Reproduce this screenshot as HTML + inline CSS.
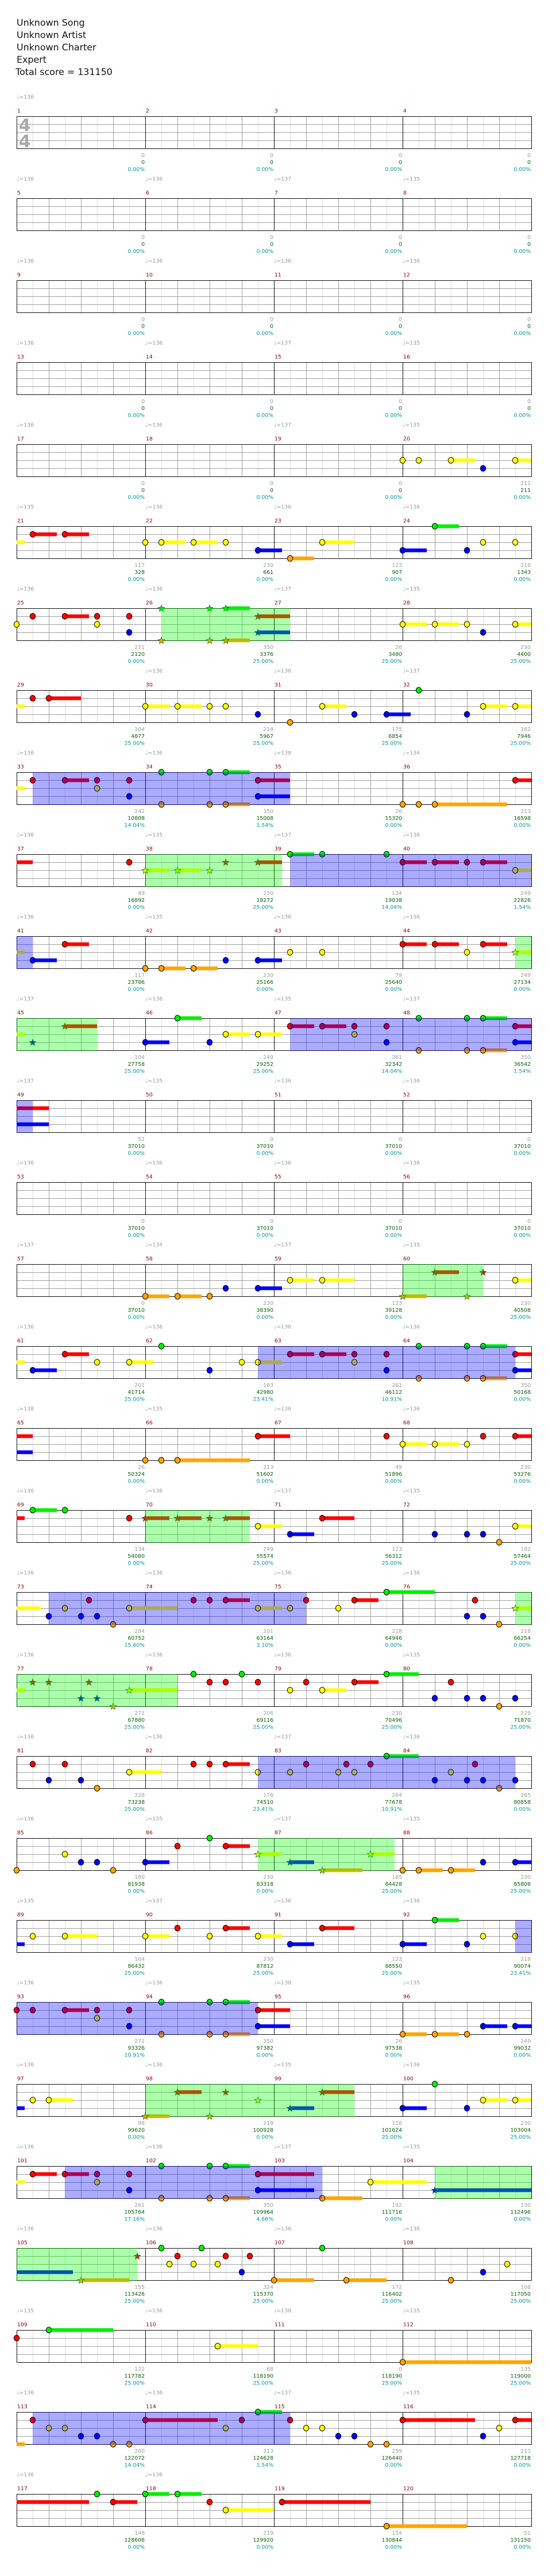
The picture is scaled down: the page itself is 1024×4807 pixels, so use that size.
<!DOCTYPE html>
<html><head><meta charset="utf-8">
<style>
html,body{margin:0;padding:0;background:#fff;}
svg{display:block;}
</style></head>
<body>
<svg id="s" xmlns="http://www.w3.org/2000/svg" width="1024" height="4807" viewBox="0 0 1024 4807" font-family="DejaVu Sans, Liberation Sans, sans-serif">
<rect width="1024" height="4807" fill="#fff"/>
<g font-size="17" fill="#111">
<text x="31" y="48">Unknown Song</text>
<text x="31" y="71">Unknown Artist</text>
<text x="31" y="94">Unknown Charter</text>
<text x="31" y="117">Expert</text>
<text x="29" y="140">Total score = 131150</text>
</g>
<g id="c"></g>
</svg>
<script>
var Z4="0/0/0.00% 0/0/0.00% 0/0/0.00% 0/0/0.00%";
var Q4="0/37010/0.00% 0/37010/0.00% 0/37010/0.00% 0/37010/0.00%";
var rows=[
{t:"136",l:Z4,n:""},
{t:"136 136 137 135",l:Z4,n:""},
{t:"136 136 136 136",l:Z4,n:""},
{t:"136 136 137 135",l:Z4,n:""},
{t:"136 136 137 135",l:"0/0/0.00% 0/0/0.00% 0/0/0.00% 211/211/0.00%",n:"y24 y25 y27+1.5 b29 y31+1"},
{t:"135 136 136 136",l:"117/328/0.00% 230/661/0.00% 123/907/0.00% 218/1343/0.00%",n:"y0+.5! r1+1.5 r3+1.5 y8 y9+1.5 y11+1.5 y13 b15+1.5 o17+1.5 y19+2 b24+1.5 g26+1.5 b28 y29 y31"},
{t:"136 136 137 135",z:"G9-17",l:"271/2120/0.00% 350/3376/25.00% 26/3480/25.00% 230/4400/25.00%",n:"y0 r1 r3+1.5 r5 y5 r7 b7 g9 g12 g13+1.5 o9 o12 o13+1.5 r15+2 b15+2 y24+1.5 y26+1.5 y28 b29 y31+1"},
{t:"_ 136 136 137",l:"104/4877/25.00% 218/5967/25.00% 175/6854/25.00% 182/7946/25.00%",n:"y0+.5! r1 r2+2 y8+1.5 y10+1.5 y12 y13 b15 o17 y19+1.5 b21 b23+1.5 g25 b28 y29+1.5 y31+1"},
{t:"136 136 138 134",z:"B1-17",l:"242/10808/14.04% 350/15008/1.54% 26/15320/0.00% 213/16598/0.00%",n:"y0+.5! r1 r3+1.5 r5 y5 r7 b7 g9 g12 g13+1.5 o9 o12 o13+1.5 r15+2 b15+2 o24 o25 o26+4.5 r31+1"},
{t:"136 135 137 136",z:"G8-16.5 B17-32",l:"49/16892/0.00% 230/18272/25.00% 134/19838/14.04% 249/22826/1.54%",n:"r0+1! r7 y8+1.5 y10+1.5 y12 r13 r15+1.5 g17+1.5 g19 g23 r24+1.5 r26+1.5 r28 r29+1.5 y31+1"},
{t:"136 135 136 136",z:"B0-1 G31-32",l:"117/23786/0.00% 230/25166/0.00% 79/25640/0.00% 249/27134/0.00%",n:"y0+.5! b1+1.5 r3+1.5 o8 o9+1.5 o11+1.5 b13 b15+1.5 y17 y19 r24+1.5 r26+1.5 y28 r29+1.5 y31+1"},
{t:"137 136 135 137",z:"G0-5 B17-32",l:"104/27758/25.00% 249/29252/25.00% 261/32342/14.04% 350/36542/1.54%",n:"y0+.5! b1 r3+2 b8+1.5 g10+1.5 b12 y13+1.5 y15+1.5 r17+1.5 r19+1.5 r21 y21 r23 b23 g25 o25 g28 g29+1.5 o28 o29+1.5 r31+1 b31+1"},
{t:"137 135 136 136",z:"B0-1",l:"52/37010/0.00% 0/37010/0.00% 0/37010/0.00% 0/37010/0.00%",n:"r0+2! b0+2!"},
{t:"136 136 136 136",l:Q4,n:""},
{t:"137 134 137 135",z:"G24-29",l:"0/37010/0.00% 230/38390/0.00% 123/39128/0.00% 230/40508/25.00%",n:"o8+1.5 o10+1.5 o12 b13 b15+1.5 y17+1.5 y19+2 o24+1.5 r26+1.5 o28 r29 y31+1"},
{t:"136 136 136 136",z:"B15-31",l:"201/41714/25.00% 163/42980/23.41% 261/46112/10.91% 350/50168/0.00%",n:"y0+.5! b1+1.5 r3+1.5 y5 y7+1.5 g9 b12 y14 y15+1.5 r17+1.5 r19+1.5 r21 y21 r23 b23 g25 o25 g28 g29+1.5 o28 o29+1.5 r31+1 b31+1"},
{t:"138 135 136 136",l:"26/50324/0.00% 213/51602/0.00% 49/51896/0.00% 230/53276/0.00%",n:"r0+1! b0+1! o8 o9 o10+4.5 r15+2 r23 y24+1.5 y26+1.5 y28 r29 r31+1"},
{t:"136 136 137 135",z:"G8-14.5",l:"134/54080/0.00% 249/55574/25.00% 123/56312/25.00% 192/57464/25.00%",n:"r0+.5! g1+1.5 g3 r7 r8+1.5 r10+1.5 r12 r13+1.5 y15+1.5 b17+1.5 r19+2 b26 b28 b29 o30 y31+1"},
{t:"136 136 136 136",z:"B2-18 G31-32",l:"284/60752/15.60% 201/63164/3.10% 218/64946/0.00% 218/66254/0.00%",n:"y0+1.5! b2 y3 r4.5 b4 b5 o6 y7+3 r11 r12 r13+1.5 y15+1.5 y17 r18 y20 r21+1.5 g23+3 r28.5 b28 b29 o30 y31+1"},
{t:"136 136 136 135",z:"G0-10",l:"271/67880/25.00% 206/69116/25.00% 230/70496/25.00% 229/71870/25.00%",n:"y0+.5! r1 r2 r4.5 b4 b5 o6 y7+3 g11 r12 r13 g14 r15 y17 r18 y19+1.5 r21+1.5 g23+2 r27 b26 b28 b29 o30 b31"},
{t:"136 136 137 136",z:"B15-31",l:"228/73238/25.00% 176/74510/23.41% 264/77678/10.91% 265/80858/0.00%",n:"r1 r3 b2 b4 o5 y7+2 r11 r12 r13+1.5 y15 y17 r18 y20 y21 r20.5 r22 g23+2 y27 r28.5 b26 b28 b29 b31 o30"},
{t:"136 135 137 135",z:"G15-23.5",l:"180/81938/0.00% 230/83318/0.00% 185/84428/25.00% 230/85808/25.00%",n:"o0 y3 b4 b5 o6 b8+1.5 r10 g12 r13+1.5 y15+1.5 b17+1.5 o19+2.5 y22+1.5 o24 o25+1.5 o27+1.5 b29 b31+1"},
{t:"135 137 136 136",z:"B31-32",l:"104/86432/25.00% 230/87812/25.00% 123/88550/25.00% 218/90074/23.41%",n:"b0+.5! y1 y3+2 y8+1.5 r10 y12 r13+1.5 y15+1.5 b17+1.5 r19+2 b24+1.5 g26+1.5 b28 y29 y31"},
{t:"136 136 138 135",z:"B0-15",l:"271/93326/10.91% 350/97382/0.00% 26/97538/0.00% 249/99032/0.00%",n:"r0 r1 r3+1.5 r5 y5 r7 b7 g9 g12 g13+1.5 o9 o12 o13+1.5 r15+2 b15+2 o24+1.5 o26+1.5 o28 b29+1.5 b31+1"},
{t:"136 136 135 136",z:"G8-21",l:"98/99620/0.00% 218/100928/0.00% 116/101624/25.00% 230/103004/25.00%",n:"b0+.5! y1 y2+1.5 o8+1.5 r10+1.5 o12 r13 y15 b17+1.5 r19+2 g26 b24+1.5 b28 y29+1.5 y31+1"},
{t:"136 136 137 135",z:"B3-19 G26-32",l:"261/105764/17.16% 350/109964/4.66% 192/111716/0.00% 130/112496/0.00%",n:"y0+.5! r1+1.5 r3+1.5 r5 y5 r7 b7 g9 g12 g13+1.5 o9 o12 o13+1.5 r15+3.5 b15+3.5 o19+2.5 y22+3.5 b26+6"},
{t:"136 136 136 136",z:"G0-7.5",l:"155/113426/25.00% 324/115370/25.00% 172/116402/25.00% 108/117050/25.00%",n:"b0+3.5! o4+3 r7.5 g9 r10 y9.5 y11 g11.5 r13 y12.5 r14.5 b14 o16+2.5 g19 o20.5+2.5 o27 b29 y30.5"},
{t:"135 136 138 135",l:"122/117782/25.00% 68/118190/25.00% 0/118190/25.00% 135/119000/25.00%",n:"r0 g2+4 y12.5+2.5 o24+8"},
{t:"136 136 137 135",z:"B1-17",l:"260/122072/14.04% 213/124628/1.54% 259/126440/0.00% 213/127718/0.00%",n:"o0+.5! r1 y2 y3 b4 b5 o6 o7 r8+4.5 y13 r14 g15+1.5 r17 y18 y19 b20 b21 o22 o23 r24+4.5 y30 b29 r31+1"},
{t:"136 136",l:"148/128606/0.00% 219/129920/0.00% 154/130844/0.00% 51/131150/0.00%",n:"r0+4.5! g5 r6+1.5 g8+1.5 g10+1.5 r12 y13+3 r16.5+5.5 o23+5"}
];
var COL={g:"#00f000",r:"#ff0000",y:"#ffff00",b:"#0000ff",o:"#ffa500"};
var LANE={g:0,r:1,y:2,b:3,o:4};
var X0=31,CW=30;
function star(cx,cy,R,r){var p=[];for(var i=0;i<10;i++){var a=-Math.PI/2+i*Math.PI/5,rr=i%2?r:R;p.push((cx+rr*Math.cos(a)).toFixed(1)+","+(cy+rr*Math.sin(a)).toFixed(1));}return p.join(" ");}
var h="";
rows.forEach(function(R,ri){
  var T=217+153*ri;
  // tempos
  var ts=R.t.split(" ");
  ts.forEach(function(t,i){ if(t!=="_") h+='<text x="'+(X0+240*i)+'" y="'+(T-33)+'" font-size="10" fill="#999">\u2669='+t+'</text>'; });
  // measure numbers
  for(var i=0;i<4;i++) h+='<text x="'+(X0+240*i+1)+'" y="'+(T-7)+'" font-size="10" fill="#8b0000">'+(ri*4+i+1)+'</text>';
  // labels
  R.l.split(" ").forEach(function(s,i){var p=s.split("/");var x=X0+240*(i+1)-1;
    h+='<text x="'+x+'" y="'+(T+76)+'" font-size="10" fill="#999" text-anchor="end">'+p[0]+'</text>';
    h+='<text x="'+x+'" y="'+(T+89)+'" font-size="10" fill="#006400" text-anchor="end">'+p[1]+'</text>';
    h+='<text x="'+x+'" y="'+(T+102)+'" font-size="10" fill="#009999" text-anchor="end">'+p[2]+'</text>';});
  // grid
  for(var c=1;c<32;c++){ if(c%8==0) continue; var x=X0+CW*c+0.5;
    h+='<line x1="'+x+'" y1="'+T+'" x2="'+x+'" y2="'+(T+60)+'" stroke="'+(c%2?"#dddddd":"#999999")+'" stroke-width="1"/>';}
  for(var k=1;k<4;k++){var y=T+15*k+0.5;h+='<line x1="'+X0+'" y1="'+y+'" x2="'+(X0+960)+'" y2="'+y+'" stroke="#999" stroke-width="1"/>';}
  for(var m=1;m<4;m++){var x=X0+240*m+0.5;h+='<line x1="'+x+'" y1="'+T+'" x2="'+x+'" y2="'+(T+60)+'" stroke="#000" stroke-width="1"/>';}
  h+='<rect x="'+(X0+0.5)+'" y="'+(T+0.5)+'" width="960" height="60" fill="none" stroke="#000" stroke-width="1"/>';
  if(ri==0){h+='<text x="35" y="245" font-size="32" font-weight="bold" fill="#aaa">4</text><text x="35" y="275" font-size="32" font-weight="bold" fill="#aaa">4</text>';}
  // zones
  var zones=[];
  if(R.z) R.z.split(" ").forEach(function(z){var t=z[0];var ab=z.slice(1).split("-");zones.push({t:t,a:+ab[0],b:+ab[1]});});
  function inG(c){for(var i=0;i<zones.length;i++){var z=zones[i];if(z.t=="G"&&c>=z.a-0.01&&c<=z.b+0.01)return true;}return false;}
  var notes=[];
  if(R.n) R.n.split(" ").forEach(function(s){var L=s[0];var nh=s.indexOf("!")>=0;s=s.replace("!","");var parts=s.slice(1).split("+");notes.push({L:L,c:+parts[0],len:parts[1]?+parts[1]:0,nh:nh});});
  // sustains
  notes.forEach(function(n){ if(n.len>0){var x1=X0+CW*n.c,x2=Math.min(X0+960,X0+CW*(n.c+n.len));var y=T+15*LANE[n.L]-3.5;
    h+='<rect x="'+x1+'" y="'+y+'" width="'+(x2-x1)+'" height="7" fill="'+COL[n.L]+'"/>';}});
  // heads
  notes.forEach(function(n){ if(n.nh) return; var cx=X0+CW*n.c,cy=T+15*LANE[n.L];
    if(inG(n.c)) h+='<polygon points="'+star(cx,cy+0.5,6.5,2.7)+'" fill="'+COL[n.L]+'" stroke="#063" stroke-width="0.8"/>';
    else h+='<ellipse cx="'+cx+'" cy="'+cy+'" rx="5" ry="5.5" fill="'+COL[n.L]+'" stroke="#000" stroke-width="1"/>';});
  // overlays
  zones.forEach(function(z){var x1=X0+CW*z.a,x2=X0+CW*z.b;
    h+='<rect x="'+x1+'" y="'+T+'" width="'+(x2-x1)+'" height="61" fill="'+(z.t=="G"?"rgba(0,255,0,0.33)":"rgba(0,0,255,0.33)")+'"/>';});
});
document.getElementById("c").innerHTML=h;
</script>
</body></html>
